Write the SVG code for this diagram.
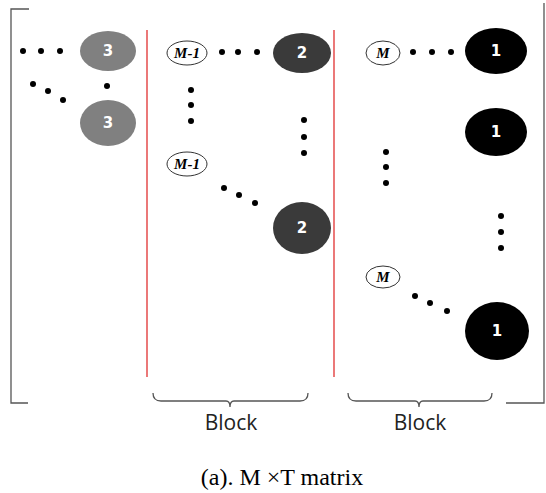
<svg xmlns="http://www.w3.org/2000/svg" width="546" height="493" viewBox="0 0 546 493">
<style>
.frame{fill:none;stroke:#555;stroke-width:1.3}
.red{stroke:#e03030;stroke-width:1.3}
.dot{fill:#000}
.num{font-family:"DejaVu Sans",sans-serif;font-weight:bold;font-size:15px;fill:#fff;text-anchor:middle;dominant-baseline:central}
.small{fill:#fff;stroke:#333;stroke-width:1}
.lbl{font-family:"Liberation Serif",serif;font-weight:bold;font-style:italic;font-size:15px;fill:#000;text-anchor:middle;dominant-baseline:central}
.blk{font-family:"Open Sans","DejaVu Sans",sans-serif;font-size:21px;fill:#222;text-anchor:middle}
.cap{font-family:"Liberation Serif",serif;font-size:24px;fill:#000;text-anchor:middle}
</style>
<g id="frame">
<path class="frame" d="M29 9 H11 V403 H28"/>
<path class="frame" d="M544 3 V403 H506"/>
<line class="red" x1="147" y1="30" x2="147" y2="377"/>
<line class="red" x1="334" y1="30" x2="334" y2="377"/>
<path class="frame" d="M153 393 Q153 401 161 401 H226 Q230 401 230 407 Q230 401 234 401 H300 Q308 401 308 393"/>
<path class="frame" d="M348 393 Q348 401 356 401 H415 Q419 401 419 407 Q419 401 423 401 H484 Q492 401 492 393"/>
<text class="blk" x="231" y="430">Block</text>
<text class="blk" x="420" y="430">Block</text>
<text class="cap" x="282" y="485">(a). M ×T matrix</text>
</g>
<g id="connectors">
<circle class="dot" cx="23" cy="51" r="3"/><circle class="dot" cx="41" cy="51" r="3"/><circle class="dot" cx="60" cy="51" r="3"/>
<circle class="dot" cx="33" cy="84" r="3"/><circle class="dot" cx="48" cy="91" r="3"/><circle class="dot" cx="63" cy="100" r="3"/>
<circle class="dot" cx="107" cy="86" r="3"/>
<circle class="dot" cx="222" cy="52" r="3"/><circle class="dot" cx="238" cy="52" r="3"/><circle class="dot" cx="257" cy="52" r="3"/>
<circle class="dot" cx="191" cy="90" r="3"/><circle class="dot" cx="191" cy="105" r="3"/><circle class="dot" cx="191" cy="121" r="3"/>
<circle class="dot" cx="304" cy="120" r="3"/><circle class="dot" cx="304" cy="137" r="3"/><circle class="dot" cx="304" cy="153" r="3"/>
<circle class="dot" cx="224" cy="188" r="3"/><circle class="dot" cx="239" cy="195" r="3"/><circle class="dot" cx="255" cy="203" r="3"/>
<circle class="dot" cx="413" cy="52" r="3"/><circle class="dot" cx="432" cy="52" r="3"/><circle class="dot" cx="451" cy="52" r="3"/>
<circle class="dot" cx="386" cy="152" r="3"/><circle class="dot" cx="386" cy="167" r="3"/><circle class="dot" cx="386" cy="183" r="3"/>
<circle class="dot" cx="501" cy="216" r="3"/><circle class="dot" cx="501" cy="232" r="3"/><circle class="dot" cx="501" cy="248" r="3"/>
<circle class="dot" cx="415" cy="296" r="3"/><circle class="dot" cx="430" cy="303" r="3"/><circle class="dot" cx="447" cy="311" r="3"/>
</g>
<g id="n3a"><ellipse cx="108" cy="51" rx="28" ry="20" fill="#808080"/><text class="num" x="108" y="51">3</text></g>
<g id="n3b"><ellipse cx="108" cy="123" rx="28" ry="23" fill="#808080"/><text class="num" x="108" y="123">3</text></g>
<g id="n2a"><ellipse cx="302" cy="53" rx="29" ry="20" fill="#3a3a3a"/><text class="num" x="302" y="53">2</text></g>
<g id="n2b"><ellipse cx="302" cy="228" rx="29" ry="26" fill="#3a3a3a"/><text class="num" x="302" y="228">2</text></g>
<g id="n1a"><ellipse cx="496" cy="51" rx="31" ry="23" fill="#000"/><text class="num" x="496" y="51">1</text></g>
<g id="n1b"><ellipse cx="496" cy="132" rx="31" ry="24" fill="#000"/><text class="num" x="496" y="132">1</text></g>
<g id="n1c"><ellipse cx="497" cy="331" rx="32" ry="29" fill="#000"/><text class="num" x="497" y="331">1</text></g>
<g id="m1a"><ellipse class="small" cx="187" cy="53" rx="20" ry="12"/><text class="lbl" x="187" y="53">M-1</text></g>
<g id="m1b"><ellipse class="small" cx="187" cy="164" rx="20" ry="12"/><text class="lbl" x="187" y="164">M-1</text></g>
<g id="ma"><ellipse class="small" cx="383" cy="53" rx="17" ry="12"/><text class="lbl" x="383" y="53">M</text></g>
<g id="mb"><ellipse class="small" cx="383" cy="277" rx="17" ry="11"/><text class="lbl" x="383" y="277">M</text></g>
</svg>
